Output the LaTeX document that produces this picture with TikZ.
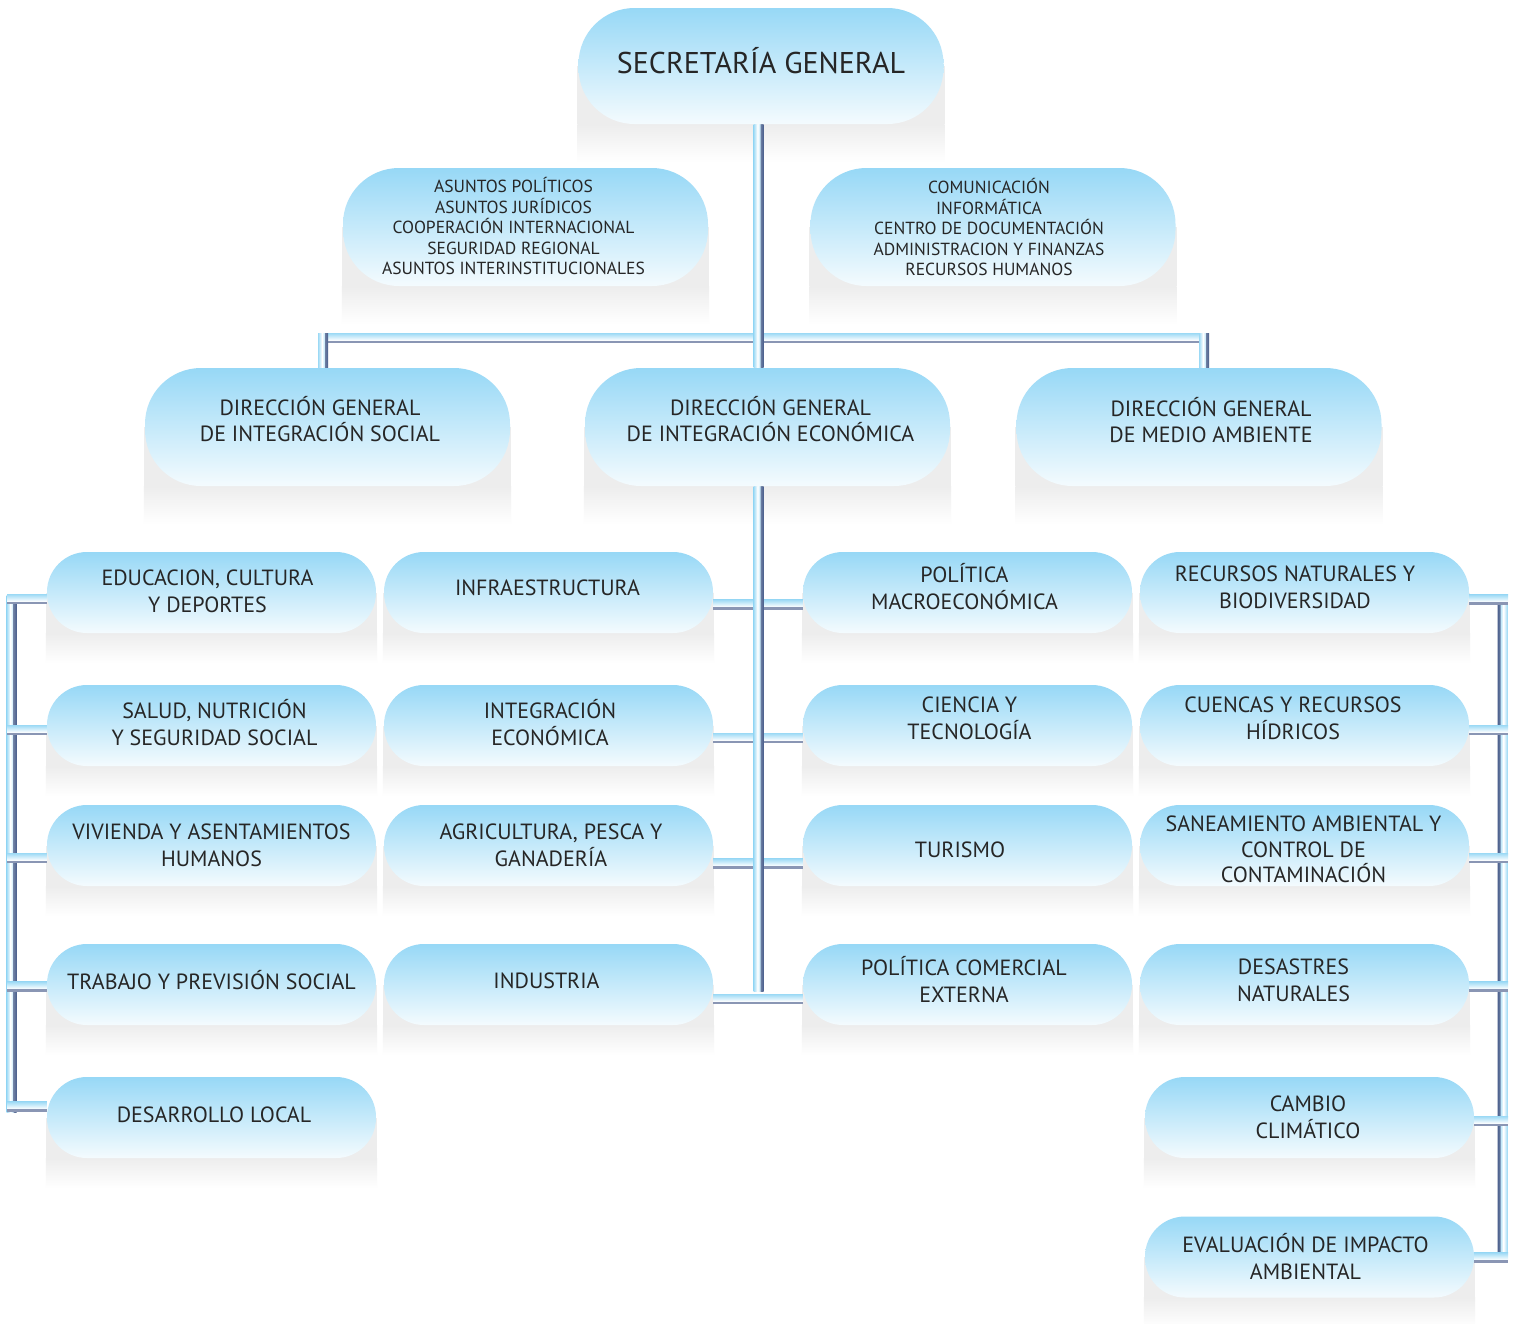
\documentclass[tikz,border=0pt]{standalone}
\usepackage{fontspec}
\setmainfont{PT Sans}
\usetikzlibrary{calc,backgrounds}
\definecolor{boxA}{HTML}{97D8F6}
\definecolor{boxB}{HTML}{F4FBFE}
\definecolor{pipeA}{HTML}{9BD9F5}
\definecolor{pipeD}{HTML}{6E7FA3}
\definecolor{pipeDD}{HTML}{4A5F8C}
\definecolor{pipeG}{HTML}{8A96B4}
\definecolor{shadowg}{HTML}{EDEDED}
\definecolor{txt}{HTML}{262626}
% shadow (reflection) behind a box
\newcommand\shadowof[2]{%
  \fill[shadowg] ($(#1.west |- #1.center)+(-1,0)$) rectangle ($(#1.south east)+(1,0)$);
  \shade[top color=shadowg, bottom color=white] ($(#1.south west)+(-1,0)$) rectangle ($(#1.south east)+(1,-#2)$);}
% horizontal pipe between two points on its centre line
\newcommand\hpipe[2]{%
  \shade[top color=pipeA, bottom color=white] ($(#1)+(0,5)$) rectangle ($(#2)+(0,-2.5)$);
  \fill[pipeG] ($(#1)+(0,-2.5)$) rectangle ($(#2)+(0,-5)$);}
% vertical pipe, dark edge on the right
\newcommand\vpipeR[2]{%
  \shade[left color=pipeA, right color=white] ($(#1)+(-5,0)$) rectangle ($(#2)+(-1,0)$);
  \shade[left color=white, right color=pipeA!70] ($(#1)+(-1,0)$) rectangle ($(#2)+(2,0)$);
  \shade[left color=pipeD, right color=pipeDD] ($(#1)+(2,0)$) rectangle ($(#2)+(5,0)$);}
% vertical pipe, dark edge on the left
\newcommand\vpipeL[2]{%
  \shade[left color=pipeDD, right color=pipeD] ($(#1)+(-5,0)$) rectangle ($(#2)+(-2,0)$);
  \shade[left color=pipeA!70, right color=white] ($(#1)+(-2,0)$) rectangle ($(#2)+(1,0)$);
  \shade[left color=white, right color=pipeA] ($(#1)+(1,0)$) rectangle ($(#2)+(5,0)$);}
\begin{document}
\begin{tikzpicture}[x=1pt,y=1pt,
  box/.style={rounded corners=40, top color=boxA, bottom color=boxB, inner sep=0pt,
    minimum width=329, minimum height=81},
  bigbox/.style={box, rounded corners=56, minimum width=365, minimum height=118},
  topbox/.style={bigbox, minimum height=116},
  lab/.style={text=txt, align=center, inner sep=0pt},
  sm/.style={lab, font=\fontsize{22}{27}\selectfont},
  sm3/.style={lab, font=\fontsize{22}{25.5}\selectfont},
  dg/.style={lab, font=\fontsize{22}{25.5}\selectfont},
  inf/.style={lab, font=\fontsize{17.5}{20.5}\selectfont},
  tp/.style={lab, font=\fontsize{30}{34}\selectfont}]
\useasboundingbox (0,0) rectangle (1517,-1323);
% top levels
\node[topbox, label={[tp,yshift=5]center:SECRETARÍA GENERAL}] (sg) at (761,-66) {};
\node[bigbox, label={[inf,xshift=-12,yshift=1]center:{ASUNTOS POLÍTICOS\\ASUNTOS JURÍDICOS\\COOPERACIÓN INTERNACIONAL\\SEGURIDAD REGIONAL\\ASUNTOS INTERINSTITUCIONALES}}] (asu) at (525.5,-227) {};
\node[bigbox, label={[inf,xshift=-4]center:{COMUNICACIÓN\\INFORMÁTICA\\CENTRO DE DOCUMENTACIÓN\\ADMINISTRACION Y FINANZAS\\RECURSOS HUMANOS}}] (com) at (993,-227) {};
\node[bigbox, label={[dg,xshift=-7.5,yshift=8]center:{DIRECCIÓN GENERAL\\DE INTEGRACIÓN SOCIAL}}] (dgs) at (327.5,-427) {};
\node[bigbox, label={[dg,xshift=3,yshift=8]center:{DIRECCIÓN GENERAL\\DE INTEGRACIÓN ECONÓMICA}}] (dge) at (767.5,-427) {};
\node[bigbox, label={[dg,xshift=12,yshift=7]center:{DIRECCIÓN GENERAL\\DE MEDIO AMBIENTE}}] (dgm) at (1199,-427) {};
% column 1
\node[box, label={[sm,xshift=-4,yshift=1]center:{EDUCACION, CULTURA\\Y DEPORTES}}] (a1) at (211.5,-592.5) {};
\node[box, label={[sm,xshift=3,yshift=3]center:{SALUD, NUTRICIÓN\\Y SEGURIDAD SOCIAL}}] (a2) at (211.5,-725.5) {};
\node[box, label={[sm]center:{VIVIENDA Y ASENTAMIENTOS\\HUMANOS}}] (a3) at (211.5,-845.5) {};
\node[box, label={[sm,yshift=4]center:{TRABAJO Y PREVISIÓN SOCIAL}}] (a4) at (211.5,-984.5) {};
\node[box, label={[sm,xshift=2.5,yshift=3]center:{DESARROLLO LOCAL}}] (a5) at (211.5,-1117.5) {};
% column 2
\node[box, label={[sm,xshift=-1,yshift=5]center:{INFRAESTRUCTURA}}] (b1) at (548.5,-592.5) {};
\node[box, label={[sm,xshift=1.5,yshift=3]center:{INTEGRACIÓN\\ECONÓMICA}}] (b2) at (548.5,-725.5) {};
\node[box, label={[sm,xshift=2.5]center:{AGRICULTURA, PESCA Y\\GANADERÍA}}] (b3) at (548.5,-845.5) {};
\node[box, label={[sm,xshift=-2,yshift=4]center:{INDUSTRIA}}] (b4) at (548.5,-984.5) {};
% column 3
\node[box, label={[sm,xshift=-3,yshift=6]center:{POLÍTICA\\MACROECONÓMICA}}] (c1) at (967.5,-592.5) {};
\node[box, label={[sm,xshift=2,yshift=7]center:{CIENCIA Y\\TECNOLOGÍA}}] (c2) at (967.5,-725.5) {};
\node[box, label={[sm,xshift=-7.5,yshift=-4]center:{TURISMO}}] (c3) at (967.5,-845.5) {};
\node[box, label={[sm,xshift=-3.5,yshift=5]center:{POLÍTICA COMERCIAL\\EXTERNA}}] (c4) at (967.5,-984.5) {};
% column 4
\node[box, label={[sm,xshift=-9.5,yshift=5]center:{RECURSOS NATURALES Y\\BIODIVERSIDAD}}] (d1) at (1304.5,-592.5) {};
\node[box, label={[sm,xshift=-11.5,yshift=7]center:{CUENCAS Y RECURSOS\\HÍDRICOS}}] (d2) at (1304.5,-725.5) {};
\node[box, label={[sm3,xshift=-1,yshift=-4]center:{SANEAMIENTO AMBIENTAL Y\\CONTROL DE\\CONTAMINACIÓN}}] (d3) at (1304.5,-845.5) {};
\node[box, label={[sm,xshift=-11,yshift=4]center:{DESASTRES\\NATURALES}}] (d4) at (1304.5,-984.5) {};
\node[box, label={[sm,xshift=-1.5]center:{CAMBIO\\CLIMÁTICO}}] (d5) at (1309.5,-1117.5) {};
\node[box, label={[sm,xshift=-4]center:{EVALUACIÓN DE IMPACTO\\AMBIENTAL}}] (d6) at (1309.5,-1257) {};
% junction coordinates
\coordinate (tx) at (758.5,0);
\coordinate (hbL) at (318,-338);
\coordinate (hbR) at (1208,-338);
\coordinate (dl) at (323,-333);
\coordinate (dr) at (1204,-333);
\coordinate (tb) at (758.5,-991);
\coordinate (r1) at (0,-604.5);
\coordinate (r2) at (0,-738);
\coordinate (r3) at (0,-863.5);
\coordinate (r4) at (0,-999);
\coordinate (lt) at (11.5,-595);
\coordinate (lb) at (11.5,-1112);
\coordinate (lx) at (7,0);
\coordinate (rt) at (1502.5,-595);
\coordinate (rb) at (1502.5,-1262);
\coordinate (rx) at (1508,0);
\begin{scope}[on background layer]
  \fill[white] (0,0) rectangle (1517,-1323);
  \foreach \n in {sg,asu,com,dgs,dge,dgm} {\shadowof{\n}{38}}
  \foreach \n in {a1,a2,a3,a4,a5,b1,b2,b3,b4,c1,c2,c3,c4,d1,d2,d3,d4,d5,d6} {\shadowof{\n}{30}}
  % top trunk and distribution bar
  \hpipe{hbL}{hbR}
  \vpipeR{dl}{dl |- dgs.north}
  \vpipeR{dr}{dr |- dgm.north}
  \vpipeR{tx |- sg.south}{tx |- dge.north}
  % central bars and trunk
  \hpipe{b1.east |- r1}{c1.west |- r1}
  \hpipe{b2.east |- r2}{c2.west |- r2}
  \hpipe{b3.east |- r3}{c3.west |- r3}
  \hpipe{b4.east |- r4}{c4.west |- r4}
  \vpipeR{tx |- dge.south}{tb}
  % left bracket
  \vpipeR{lt}{lb}
  \foreach \n/\y in {a1/-599,a2/-730,a3/-858,a4/-986.5,a5/-1106.5}
    {\hpipe{lx |- 0,\y}{\n.west |- 0,\y}}
  % right bracket
  \vpipeL{rt}{rb}
  \foreach \n/\y in {d1/-599.5,d2/-730,d3/-858,d4/-986.5,d5/-1121,d6/-1257.5}
    {\hpipe{\n.east |- 0,\y}{rx |- 0,\y}}
\end{scope}
\end{tikzpicture}
\end{document}
